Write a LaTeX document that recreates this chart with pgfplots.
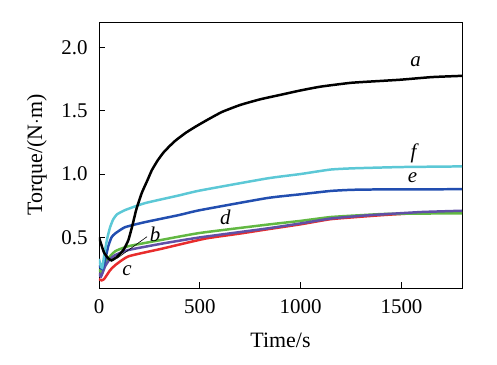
\documentclass[border=0pt]{standalone}
\usepackage{pgfplots}
\pgfplotsset{compat=1.18}
\usepackage{fontspec}
\setmainfont{Liberation Serif}
\definecolor{ccyan}{RGB}{92,200,214}
\definecolor{cblue}{RGB}{34,78,176}
\definecolor{cgreen}{RGB}{98,184,66}
\definecolor{cpurple}{RGB}{96,80,166}
\definecolor{cred}{RGB}{232,44,44}
\begin{document}
\begin{tikzpicture}[x=1bp,y=1bp]
\path[use as bounding box] (-99,-76) rectangle (398,288);
\begin{axis}[
  at={(0,0)}, anchor=south west,
  scale only axis, width=363bp, height=266bp,
  xmin=0, xmax=1800, ymin=0.1, ymax=2.2,
  xtick={0,500,1000,1500}, ytick={0.5,1.0,1.5,2.0},
  xticklabel style={yshift=-8bp, /pgf/number format/1000 sep={}},
  yticklabel style={xshift=-8bp, /pgf/number format/fixed, /pgf/number format/fixed zerofill, /pgf/number format/precision=1},
  /pgf/number format/assume math mode=true,
  tick label style={font=\fontsize{21}{24}\selectfont},
  label style={font=\fontsize{22}{25}\selectfont},
  xtick pos=bottom, ytick pos=left, tick align=inside,
  major tick length=6bp,
  axis line style={line width=0.9pt},
  every tick/.style={line width=0.8pt, black},
  xlabel={Time/s}, ylabel={Torque/(N$\cdot$m)},
  xlabel style={at={(axis description cs:0.5,-0.195)}, anchor=center},
  ylabel style={at={(axis description cs:-0.171,0.5)}, anchor=center},
  scaled x ticks=false,
  every axis plot/.append style={line width=2.5pt, smooth, tension=0.3},
  clip=true,
]
\addplot[cred] coordinates {(0,0.17) (13,0.16) (25,0.17) (38,0.20) (55,0.24) (80,0.28) (146,0.35) (311,0.41) (527,0.49) (700,0.53) (833,0.563) (1000,0.603) (1147,0.643) (1300,0.663) (1429,0.678) (1600,0.693) (1800,0.703)};
\addplot[cgreen] coordinates {(0,0.25) (13,0.215) (25,0.27) (38,0.32) (80,0.39) (146,0.43) (311,0.48) (502,0.535) (833,0.60) (1000,0.63) (1147,0.66) (1300,0.675) (1429,0.685) (1800,0.69)};
\addplot[cpurple] coordinates {(0,0.22) (10,0.19) (30,0.27) (50,0.32) (80,0.36) (146,0.40) (311,0.45) (502,0.50) (833,0.57) (1000,0.61) (1147,0.648) (1300,0.67) (1429,0.684) (1600,0.70) (1800,0.71)};
\addplot[cblue] coordinates {(0,0.28) (10,0.255) (18,0.25) (30,0.32) (46,0.43) (62,0.50) (80,0.53) (129,0.58) (228,0.62) (394,0.675) (502,0.715) (833,0.81) (1000,0.84) (1147,0.866) (1250,0.875) (1379,0.878) (1800,0.88)};
\addplot[ccyan] coordinates {(0,0.33) (8,0.28) (16,0.26) (30,0.40) (42,0.50) (55,0.58) (70,0.64) (88,0.68) (129,0.715) (228,0.77) (394,0.83) (502,0.87) (833,0.965) (1000,1.0) (1147,1.035) (1262,1.045) (1500,1.055) (1800,1.06)};
\addplot[black] coordinates {(0,0.50) (10,0.45) (25,0.38) (45,0.335) (62,0.318) (85,0.34) (105,0.37) (125,0.41) (146,0.48) (165,0.59) (185,0.72) (212,0.85) (240,0.95) (262,1.03) (290,1.105) (320,1.17) (350,1.22) (380,1.265) (430,1.325) (480,1.375) (540,1.43) (610,1.49) (700,1.545) (800,1.59) (900,1.625) (1000,1.66) (1100,1.69) (1250,1.72) (1400,1.735) (1500,1.745) (1650,1.765) (1800,1.775)};
\draw[line width=0.6pt] (axis cs:238,0.505) -- (axis cs:90,0.335);
\begin{scope}[every node/.style={font=\fontsize{21}{24}\selectfont\itshape}]
\node at (axis cs:1570,1.885) {a};
\node at (axis cs:1560,1.166) {f};
\node at (axis cs:1555,0.97) {e};
\node at (axis cs:626,0.66) {d};
\node at (axis cs:278,0.52) {b};
\node at (axis cs:139,0.24) {c};
\end{scope}
\end{axis}
\end{tikzpicture}
\end{document}
